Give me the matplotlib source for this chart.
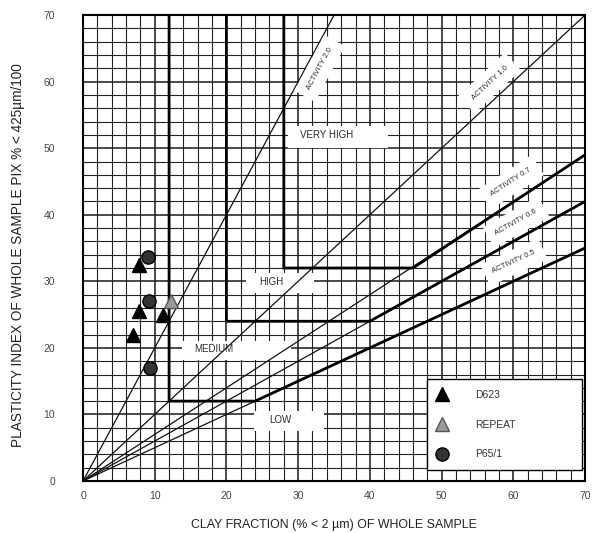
import matplotlib
matplotlib.use('Agg')
import numpy as np
import matplotlib.pyplot as plt
from matplotlib.patches import Rectangle

plt.rcParams['font.family'] = ['Liberation Sans', 'DejaVu Sans']

# activity lines through the origin
activity = [2.0, 1.0, 0.7, 0.6, 0.5]
activity_labels = ['ACTIVITY 2.0', 'ACTIVITY 1.0', 'ACTIVITY 0.7', 'ACTIVITY 0.6', 'ACTIVITY 0.5']
activity_label_x = [33.0, 56.7, 59.7, 60.4, 60.1]
activity_label_y = [62.0, 59.8, 44.9, 38.9, 32.9]

# zone boundaries (heavy lines)
low_med_x = [12, 12, 24, 70]
low_med_y = [70, 12, 12, 35]
med_high_x = [20, 20, 40, 70]
med_high_y = [70, 24, 24, 42]
high_vh_x = [28, 28, 46, 70]
high_vh_y = [70, 32, 32, 49]

zone_labels = ['VERY HIGH', 'HIGH', 'MEDIUM', 'LOW']

# samples
d623_x = [7.0, 7.8, 7.8, 11.2]
d623_y = [22.0, 25.5, 32.5, 25.0]
repeat_x = [12.3]
repeat_y = [27.0]
p65_x = [9.0, 9.2, 9.4]
p65_y = [33.6, 27.0, 17.0]

fig = plt.figure(figsize=(5.93, 5.33), dpi=100)
ax = fig.add_axes([0.14, 0.0976, 0.8465, 0.874])
ax.set_xlim(0, 70)
ax.set_ylim(0, 70)

# grid paper
for v in np.arange(0, 71, 2):
    lw = 1.15 if v % 10 == 0 else 0.8
    ax.axvline(v, color='#222222', lw=lw, zorder=1)
    ax.axhline(v, color='#222222', lw=lw, zorder=1)

# zone label boxes
boxes = [(28.6, 50.0, 13.9, 3.3), (22.7, 28.2, 9.5, 3.0), (13.8, 18.2, 15.2, 2.8), (23.8, 7.5, 9.8, 3.0)]
texts = [(30.2, 52.0), (24.6, 29.9), (15.5, 19.8), (25.9, 9.2)]
for (bx, by, bw, bh), (tx, ty), lab in zip(boxes, texts, zone_labels):
    ax.add_patch(Rectangle((bx, by), bw, bh, facecolor='white', edgecolor='none', zorder=2))
    ax.text(tx, ty, lab, fontsize=7, color='#2a2a2a', ha='left', va='center', zorder=6)

# thin activity lines
for a in activity:
    xe = min(70, 70 / a)
    ax.plot([0, xe], [0, a * xe], color='#111111', lw=0.9, zorder=3)

# heavy boundaries
for bx, by in [(low_med_x, low_med_y), (med_high_x, med_high_y), (high_vh_x, high_vh_y)]:
    ax.plot(bx, by, color='black', lw=2.0, zorder=4, solid_joinstyle='miter')

# activity labels, rotated along their lines
ppu_x = 0.8465 * 593 / 70
ppu_y = 0.874 * 533 / 70
for a, lab, tx, ty in zip(activity, activity_labels, activity_label_x, activity_label_y):
    ang = np.degrees(np.arctan(a * ppu_y / ppu_x))
    ax.text(tx, ty, lab, fontsize=5.5, color='#2a2a2a', rotation=ang, ha='center', va='center',
            rotation_mode='anchor', zorder=6,
            bbox=dict(facecolor='white', edgecolor='none', pad=6))

# samples
ax.plot(d623_x, d623_y, '^', color='black', ms=9.5, mec='black', zorder=7, label='D623')
ax.plot(repeat_x, repeat_y, '^', color='#9a9a9a', ms=9.5, mec='#555555', zorder=7, label='REPEAT')
ax.plot(p65_x, p65_y, 'o', color='#333333', ms=9.5, mec='black', zorder=7, label='P65/1')

leg = ax.legend(loc='lower left', bbox_to_anchor=(0.685, 0.024, 0.309, 0.21), mode='expand',
                fontsize=7.5, labelspacing=1.9, handletextpad=2.6, borderpad=1.0,
                frameon=True, fancybox=False, framealpha=1, edgecolor='black',
                handlelength=1.0, borderaxespad=0)
leg.get_frame().set_linewidth(1.0)
leg.set_zorder(8)
for t in leg.get_texts():
    t.set_color('#333333')

ax.set_xticks(np.arange(0, 71, 10))
ax.set_yticks(np.arange(0, 71, 10))
ax.tick_params(length=0, labelsize=7.5, labelcolor='#444444')
ax.tick_params(axis='y', pad=20)
ax.tick_params(axis='x', pad=7)
for s in ax.spines.values():
    s.set_linewidth(1.5)
    s.set_zorder(9)

ax.set_xlabel('CLAY FRACTION (% < 2 µm) OF WHOLE SAMPLE', fontsize=8.9, color='#222222', labelpad=13)
ax.set_ylabel('PLASTICITY INDEX OF WHOLE SAMPLE PIX % < 425µm/100', fontsize=9.8, color='#222222')
ax.yaxis.set_label_coords(-0.115, 0.485)

fig.savefig('out.png', dpi=100)
